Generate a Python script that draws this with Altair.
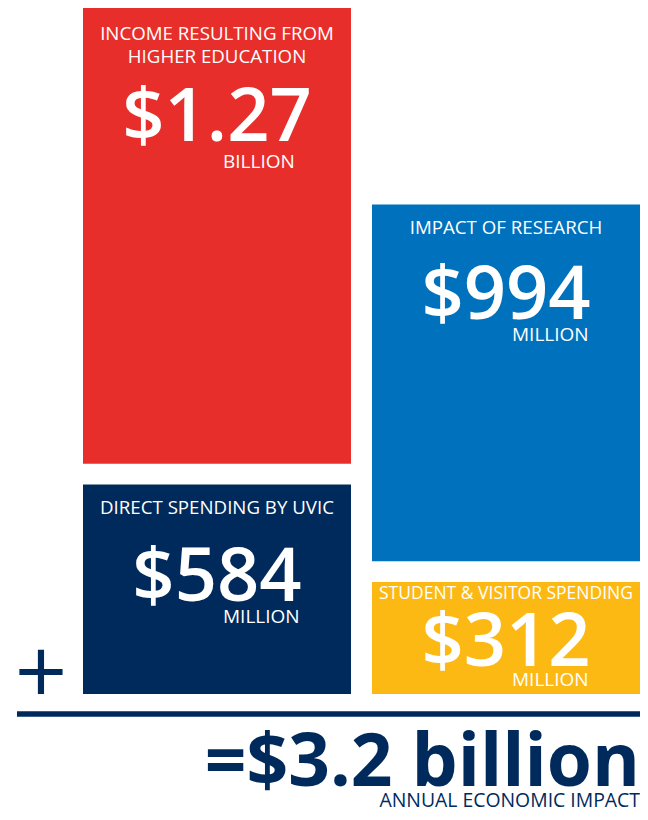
import altair as alt
import pandas as pd

# ---- data ----
titles = ["INCOME RESULTING FROM\nHIGHER EDUCATION", "IMPACT OF RESEARCH",
          "DIRECT SPENDING BY UVIC", "STUDENT & VISITOR SPENDING"]
values_m = [1270, 994, 584, 312]          # millions of dollars
amounts = ["$1.27", "$994", "$584", "$312"]
units = ["BILLION", "MILLION", "MILLION", "MILLION"]
columns = ["left", "right", "left", "right"]
stack_order = [1, 1, 0, 0]                 # 0 = bottom of its column
colors = ["#E82E2A", "#0071BC", "#002A5C", "#FDB913"]
total_caption = "ANNUAL ECONOMIC IMPACT"

# ---- layout / style ----
GAP = 58                                   # visual gap between stacked blocks (in value units)
NAVY = "#002A5C"
FONT = "Open Sans"
title_off = [32, 29, 30, 17]
number_off = [133, 114, 117, 84]
unit_off = [160, 136, 139, 104]
title_size = [18.7, 18.7, 18.7, 17.5]

df = pd.DataFrame({"title": titles, "value": values_m, "amount": amounts, "unit": units,
                   "column": columns, "order": stack_order, "color": colors,
                   "title_size": title_size})
bottoms, tops = [], []
for i, r in df.iterrows():
    below = df[(df.column == r.column) & (df.order < r.order)]
    b = below.value.sum() + GAP * len(below)
    bottoms.append(b)
    tops.append(b + r.value)
df["bottom"] = bottoms
df["top"] = tops

Y_TOP = df.top.max()                       # tallest column
Y_RANGE = [686, 0]
K = Y_RANGE[0] / Y_TOP                     # px per million
df["title_y"] = df.top - pd.Series(title_off) / K
df["number_y"] = df.top - pd.Series(number_off) / K
df["unit_y"] = df.top - pd.Series(unit_off) / K

total = sum(values_m)
total_label = f"=${total/1000:.1f} billion"

xs = alt.Scale(domain=["left", "right"], range=[75, 632], paddingInner=0.0727, paddingOuter=0)
ys = alt.Scale(domain=[0, Y_TOP], range=Y_RANGE, zero=False, nice=False)
X = alt.X("column:N", scale=xs, axis=None)

base = alt.Chart(df)
blocks = base.mark_rect().encode(
    x=X,
    y=alt.Y("bottom:Q", scale=ys, axis=None),
    y2="top:Q",
    color=alt.Color("color:N", scale=None),
)
title_text = base.mark_text(font=FONT, color="white", align="center", baseline="alphabetic",
                            lineBreak="\n", lineHeight=23).encode(
    x=X, y=alt.Y("title_y:Q", scale=ys, axis=None), text="title:N",
    size=alt.Size("title_size:Q", scale=None))
number_text = base.mark_text(font=FONT, color="white", align="center", baseline="alphabetic",
                             fontSize=74, fontWeight=600).encode(
    x=X, y=alt.Y("number_y:Q", scale=ys, axis=None), text="amount:N")
unit_text = base.mark_text(font=FONT, color="white", align="left", baseline="alphabetic",
                           fontSize=19, dx=6).encode(
    x=X, y=alt.Y("unit_y:Q", scale=ys, axis=None), text="unit:N")

deco = alt.Chart(pd.DataFrame({"plus": ["+"], "total": [total_label], "caption": [total_caption]}))
plus = deco.mark_text(font=FONT, color=NAVY, fontSize=92, align="center", baseline="alphabetic").encode(
    x=alt.value(33), y=alt.value(696), text="plus:N")
rule = deco.mark_rule(color=NAVY, strokeWidth=5.5).encode(
    x=alt.value(9), x2=alt.value(632), y=alt.value(706))
total_text = deco.mark_text(font=FONT, color=NAVY, fontSize=73, fontWeight="bold",
                            align="right", baseline="alphabetic").encode(
    x=alt.value(632), y=alt.value(778), text="total:N")
caption_text = deco.mark_text(font=FONT, color=NAVY, fontSize=19.4,
                              align="right", baseline="alphabetic").encode(
    x=alt.value(632), y=alt.value(799), text="caption:N")

chart = alt.layer(blocks, title_text, number_text, unit_text, plus, rule, total_text, caption_text).properties(
    width=632, height=804, autosize=alt.AutoSizeParams(type="none"), padding=0
).configure_view(stroke=None)

chart.save("out.html", embed_options={"renderer": "svg", "actions": False})
